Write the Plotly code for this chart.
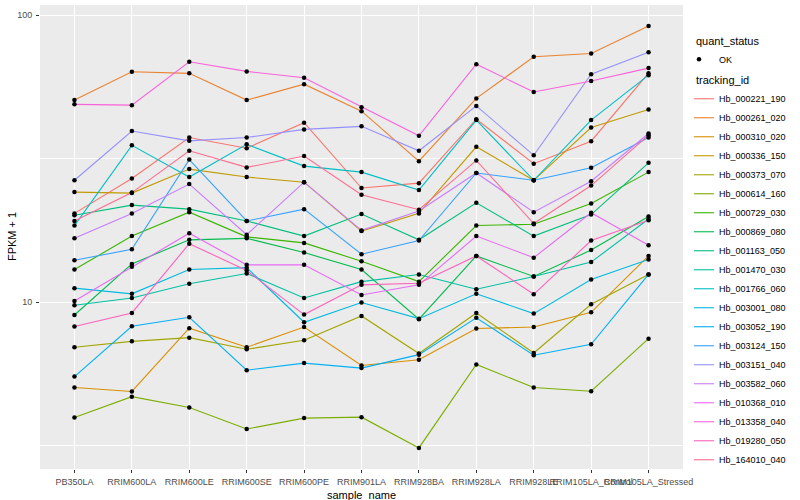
import plotly.graph_objects as go

samples = ["PB350LA", "RRIM600LA", "RRIM600LE", "RRIM600SE", "RRIM600PE", "RRIM901LA",
           "RRIM928BA", "RRIM928LA", "RRIM928LE", "RRIM105LA_Control", "RRIM105LA_Stressed"]

tracking_ids = ["Hb_000221_190", "Hb_000261_020", "Hb_000310_020", "Hb_000336_150", "Hb_000373_070",
                "Hb_000614_160", "Hb_000729_030", "Hb_000869_080", "Hb_001163_050", "Hb_001470_030",
                "Hb_001766_060", "Hb_003001_080", "Hb_003052_190", "Hb_003124_150", "Hb_003151_040",
                "Hb_003582_060", "Hb_010368_010", "Hb_013358_040", "Hb_019280_050", "Hb_164010_040"]

Hb_000221_190 = [20.4, 27.0, 37.5, 34.4, 42.2, 25.0, 26.0, 43.4, 30.4, 36.4, 62.8]
Hb_000261_020 = [50.6, 63.5, 62.7, 50.6, 57.5, 46.3, 31.0, 51.3, 71.6, 73.5, 91.6]
Hb_000310_020 = [5.05, 4.89, 8.12, 6.97, 8.20, 6.02, 6.31, 8.10, 8.20, 9.23, 14.5]
Hb_000336_150 = [24.2, 24.0, 29.1, 27.3, 26.2, 17.7, 20.4, 34.8, 26.6, 40.6, 46.9]
Hb_000373_070 = [6.97, 7.31, 7.53, 6.86, 7.37, 8.96, 6.63, 9.18, 6.66, 9.84, 12.5]
Hb_000614_160 = [3.97, 4.69, 4.30, 3.62, 3.95, 3.98, 3.11, 6.07, 5.05, 4.90, 7.47]
Hb_000729_030 = [13.0, 17.0, 20.6, 16.9, 16.1, 13.9, 11.8, 18.5, 18.7, 22.1, 28.4]
Hb_000869_080 = [9.03, 13.6, 16.5, 16.7, 14.9, 13.0, 8.73, 14.5, 12.3, 15.2, 19.9]
Hb_001163_050 = [20.1, 21.8, 21.1, 19.2, 17.0, 20.3, 16.5, 22.2, 17.0, 20.2, 30.6]
Hb_001470_030 = [9.76, 10.35, 11.6, 12.6, 10.35, 11.8, 12.5, 11.1, 12.3, 13.8, 19.5]
Hb_001766_060 = [18.5, 35.2, 27.3, 35.5, 29.8, 28.4, 24.6, 43.1, 26.6, 43.1, 61.8]
Hb_003001_080 = [11.2, 10.7, 13.0, 13.2, 8.52, 9.98, 8.77, 10.7, 9.13, 12.0, 14.1]
Hb_003052_190 = [5.51, 8.25, 8.87, 5.80, 6.14, 5.90, 6.57, 8.83, 6.54, 7.14, 12.5]
Hb_003124_150 = [14.0, 15.3, 31.4, 19.2, 21.1, 14.7, 16.4, 28.2, 26.6, 29.4, 37.5]
Hb_003151_040 = [26.6, 39.5, 36.5, 37.5, 40.0, 41.0, 33.7, 48.3, 32.5, 62.3, 74.3]
Hb_003582_060 = [16.7, 20.4, 25.8, 17.2, 26.2, 17.8, 20.8, 28.2, 20.6, 26.4, 38.7]
Hb_010368_010 = [10.1, 13.3, 17.4, 13.5, 13.5, 10.6, 11.5, 17.0, 14.3, 20.5, 15.8]
Hb_013358_040 = [48.9, 48.6, 68.8, 63.7, 60.5, 47.8, 38.0, 67.5, 54.0, 59.0, 65.4]
Hb_019280_050 = [8.23, 9.18, 16.0, 12.9, 9.06, 11.5, 11.65, 14.5, 10.66, 16.4, 19.3]
Hb_164010_040 = [19.2, 24.1, 33.7, 29.5, 32.3, 23.7, 21.0, 31.2, 18.8, 25.5, 38.2]

series = [Hb_000221_190, Hb_000261_020, Hb_000310_020, Hb_000336_150, Hb_000373_070,
          Hb_000614_160, Hb_000729_030, Hb_000869_080, Hb_001163_050, Hb_001470_030,
          Hb_001766_060, Hb_003001_080, Hb_003052_190, Hb_003124_150, Hb_003151_040,
          Hb_003582_060, Hb_010368_010, Hb_013358_040, Hb_019280_050, Hb_164010_040]

colors = ["#F8766D", "#EA8331", "#D89000", "#C09B00", "#A3A500", "#7CAE00", "#39B600",
          "#00BB4E", "#00BF7D", "#00C1A3", "#00BFC4", "#00BAE0", "#00B0F6", "#35A2FF",
          "#9590FF", "#C77CFF", "#E76BF3", "#FA62DB", "#FF62BC", "#FF6C90"]

FONT = "Liberation Sans, Arial, sans-serif"

fig = go.Figure()
for tid, vals, col in zip(tracking_ids, series, colors):
    fig.add_trace(go.Scatter(x=samples, y=vals, mode="lines", name=tid,
                             line=dict(color=col, width=1.1), legend="legend2",
                             hoverinfo="x+y+name"))

all_x = [s for _ in series for s in samples]
all_y = [v for vals in series for v in vals]
fig.add_trace(go.Scatter(x=all_x, y=all_y, mode="markers", name="OK",
                         marker=dict(color="black", size=4.5), legend="legend"))

fig.update_layout(
    width=800, height=500,
    margin=dict(l=40, r=117, t=5, b=31, autoexpand=False),
    paper_bgcolor="white", plot_bgcolor="#EBEBEB",
    font=dict(family=FONT, color="black"),
    showlegend=True,
    legend=dict(title=dict(text="quant_status", font=dict(size=11)),
                font=dict(size=9), x=1.0171, xanchor="left", y=0.945, yanchor="top",
                bgcolor="rgba(0,0,0,0)", itemwidth=30, tracegroupgap=0, indentation=-15),
    legend2=dict(title=dict(text="tracking_id", font=dict(size=11)),
                 font=dict(size=9), x=1.0171, xanchor="left", y=0.86, yanchor="top",
                 bgcolor="rgba(0,0,0,0)", itemwidth=30, tracegroupgap=0, indentation=-15),
    xaxis=dict(type="category", categoryorder="array", categoryarray=samples,
               range=[-0.6, 10.6], showgrid=True, gridcolor="white", gridwidth=1.1,
               ticks="outside", ticklen=3, tickcolor="#333333", tickangle=0,
               tickfont=dict(size=9, color="#4D4D4D"), zeroline=False, showline=False,
               automargin=False, ticklabelstandoff=1),
    yaxis=dict(type="log", range=[0.4193, 2.0354], tickmode="array",
               tickvals=[10, 100], ticktext=["10", "100"],
               showgrid=True, gridcolor="white", gridwidth=1.1,
               minor=dict(tickmode="array", tickvals=[10 ** 0.5, 10 ** 1.5],
                          showgrid=True, gridcolor="white", gridwidth=0.55, ticks=""),
               ticks="outside", ticklen=3, tickcolor="#333333",
               tickfont=dict(size=9, color="#4D4D4D"), zeroline=False, showline=False,
               automargin=False, ticklabelstandoff=2),
    annotations=[
        dict(text="sample_name", xref="paper", yref="paper", x=0.5, y=-0.055,
             xanchor="center", yanchor="middle", showarrow=False,
             font=dict(size=11, color="black")),
        dict(text="FPKM + 1", xref="paper", yref="paper", x=-0.0435, y=0.5,
             xanchor="center", yanchor="middle", showarrow=False, textangle=-90,
             font=dict(size=11, color="black")),
    ],
)

fig.write_html("out.html", config={"displayModeBar": False},
               post_script="document.body.style.margin='0';")
